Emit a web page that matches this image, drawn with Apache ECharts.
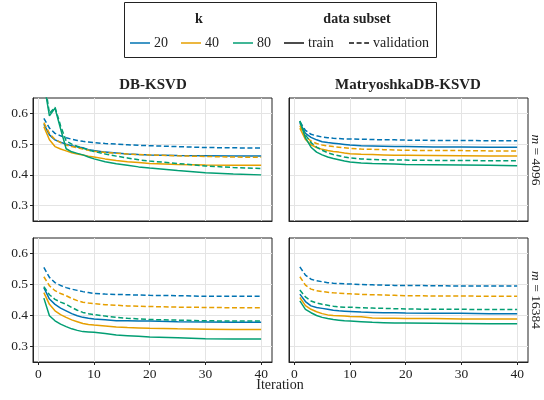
<!DOCTYPE html>
<html>
<head>
<meta charset="utf-8">
<script src="https://cdn.jsdelivr.net/npm/echarts@6/dist/echarts.min.js"></script>
<style>html,body{margin:0;padding:0;background:#fff}#c{width:544px;height:400px}</style>
</head>
<body>
<div id="c"></div>
<script>
// ---------- DATA ----------
const iters = [1,2,3,4,5,6,7,8,9,10,12,14,16,18,20,25,30,35,40];
const xTicks = [0,10,20,30,40];
const yTicks = [0.3,0.4,0.5,0.6];
const methods = ['DB-KSVD','MatryoshkaDB-KSVD'];
const mValues = ['4096','16384'];
const kValues = ['20','40','80'];
const subsets = ['train','validation'];

// DB-KSVD, m = 4096
const db4096_k20_train = [0.565,0.530,0.514,0.506,0.500,0.495,0.491,0.488,0.482,0.479,0.474,0.471,0.468,0.466,0.465,0.463,0.462,0.461,0.461];
const db4096_k20_val   = [0.584,0.552,0.535,0.527,0.521,0.516,0.512,0.509,0.507,0.505,0.502,0.500,0.498,0.496,0.495,0.492,0.489,0.488,0.487];
const db4096_k40_train = [0.557,0.514,0.492,0.484,0.478,0.472,0.468,0.465,0.461,0.458,0.452,0.447,0.443,0.440,0.437,0.434,0.432,0.431,0.431];
const db4096_k40_val   = [0.570,0.535,0.515,0.505,0.497,0.492,0.488,0.484,0.480,0.477,0.473,0.470,0.468,0.466,0.465,0.462,0.460,0.458,0.457];
const db4096_k80_train = [0.700,0.592,0.617,0.550,0.485,0.475,0.470,0.465,0.458,0.452,0.443,0.436,0.431,0.426,0.422,0.414,0.407,0.403,0.400];
const db4096_k80_val   = [0.720,0.600,0.620,0.560,0.510,0.500,0.493,0.487,0.481,0.476,0.468,0.461,0.455,0.449,0.445,0.437,0.429,0.424,0.421];
// MatryoshkaDB-KSVD, m = 4096
const mat4096_k20_train = [0.568,0.535,0.522,0.514,0.508,0.505,0.503,0.501,0.499,0.497,0.495,0.494,0.493,0.492,0.492,0.491,0.491,0.490,0.490];
const mat4096_k20_val   = [0.573,0.545,0.532,0.527,0.523,0.521,0.519,0.518,0.517,0.517,0.516,0.515,0.514,0.514,0.513,0.512,0.512,0.511,0.511];
const mat4096_k40_train = [0.552,0.515,0.498,0.489,0.483,0.479,0.476,0.474,0.471,0.469,0.467,0.466,0.465,0.464,0.464,0.463,0.462,0.461,0.461];
const mat4096_k40_val   = [0.560,0.525,0.510,0.502,0.497,0.494,0.492,0.490,0.488,0.486,0.484,0.483,0.482,0.481,0.480,0.479,0.479,0.478,0.478];
const mat4096_k80_train = [0.575,0.520,0.490,0.474,0.465,0.458,0.453,0.449,0.445,0.442,0.439,0.437,0.436,0.435,0.434,0.433,0.432,0.431,0.430];
const mat4096_k80_val   = [0.575,0.530,0.505,0.490,0.480,0.472,0.466,0.462,0.458,0.455,0.452,0.450,0.449,0.448,0.448,0.447,0.447,0.446,0.446];
// DB-KSVD, m = 16384
const db16384_k20_train = [0.490,0.453,0.436,0.424,0.415,0.406,0.399,0.394,0.391,0.389,0.386,0.383,0.383,0.382,0.382,0.380,0.379,0.378,0.378];
const db16384_k20_val   = [0.555,0.523,0.506,0.497,0.490,0.485,0.481,0.477,0.474,0.471,0.469,0.468,0.467,0.466,0.465,0.464,0.462,0.462,0.462];
const db16384_k40_train = [0.474,0.436,0.415,0.403,0.394,0.386,0.380,0.374,0.371,0.369,0.366,0.363,0.361,0.360,0.359,0.357,0.356,0.355,0.355];
const db16384_k40_val   = [0.525,0.496,0.480,0.471,0.464,0.455,0.448,0.443,0.440,0.438,0.435,0.433,0.431,0.430,0.429,0.427,0.426,0.425,0.425];
const db16384_k80_train = [0.456,0.399,0.383,0.372,0.364,0.357,0.352,0.348,0.347,0.346,0.342,0.337,0.335,0.333,0.331,0.328,0.325,0.324,0.324];
const db16384_k80_val   = [0.493,0.467,0.452,0.443,0.436,0.426,0.417,0.410,0.406,0.403,0.398,0.394,0.391,0.389,0.387,0.385,0.383,0.382,0.382];
// MatryoshkaDB-KSVD, m = 16384
const mat16384_k20_train = [0.469,0.445,0.431,0.426,0.423,0.420,0.417,0.415,0.414,0.413,0.411,0.410,0.409,0.409,0.408,0.407,0.407,0.406,0.406];
const mat16384_k20_val   = [0.557,0.530,0.517,0.512,0.509,0.506,0.504,0.503,0.502,0.502,0.500,0.499,0.498,0.497,0.497,0.496,0.495,0.495,0.495];
const mat16384_k40_train = [0.458,0.432,0.420,0.412,0.406,0.402,0.400,0.399,0.398,0.397,0.396,0.392,0.391,0.391,0.390,0.390,0.389,0.389,0.389];
const mat16384_k40_val   = [0.525,0.498,0.485,0.480,0.477,0.475,0.473,0.472,0.471,0.470,0.468,0.467,0.466,0.465,0.464,0.463,0.463,0.462,0.462];
const mat16384_k80_train = [0.447,0.420,0.409,0.400,0.394,0.390,0.387,0.385,0.383,0.382,0.380,0.378,0.377,0.376,0.376,0.375,0.374,0.373,0.373];
const mat16384_k80_val   = [0.482,0.460,0.447,0.440,0.436,0.433,0.430,0.428,0.427,0.427,0.425,0.424,0.423,0.422,0.421,0.420,0.420,0.419,0.419];

// ---------- STRUCTURE ----------
const panels = [
  {grid:0, series:{ '20':[db4096_k20_train, db4096_k20_val], '40':[db4096_k40_train, db4096_k40_val], '80':[db4096_k80_train, db4096_k80_val] }},
  {grid:1, series:{ '20':[mat4096_k20_train, mat4096_k20_val], '40':[mat4096_k40_train, mat4096_k40_val], '80':[mat4096_k80_train, mat4096_k80_val] }},
  {grid:2, series:{ '20':[db16384_k20_train, db16384_k20_val], '40':[db16384_k40_train, db16384_k40_val], '80':[db16384_k80_train, db16384_k80_val] }},
  {grid:3, series:{ '20':[mat16384_k20_train, mat16384_k20_val], '40':[mat16384_k40_train, mat16384_k40_val], '80':[mat16384_k80_train, mat16384_k80_val] }}
];
const colors = {'20':'#0173B2','40':'#E69F00','80':'#029E73'};
const FONT = '"Liberation Serif", "DejaVu Serif", serif';
const TXT = '#222';

const gridPos = [
  {left:33, top:98, width:239, height:123},
  {left:289, top:98, width:239, height:123},
  {left:33, top:238, width:239, height:124},
  {left:289, top:238, width:239, height:124}
];

const grids = gridPos.map(g => Object.assign({show:true, borderColor:'#222', borderWidth:1, backgroundColor:'transparent', containLabel:false}, g));

const xAxes = gridPos.map((g,i) => ({
  type:'value', gridIndex:i, min:-0.95, max:41.95,
  axisLine:{show:true, onZero:false, lineStyle:{color:'#222', width:1}},
  axisTick:{show:i>=2, length:3, inside:false, customValues:xTicks, lineStyle:{color:'#222'}},
  axisLabel:{show:i>=2, customValues:xTicks, fontFamily:FONT, fontSize:13.5, color:TXT, margin:5,
    formatter: v => (Math.abs(v - Math.round(v/10)*10) < 1e-6 ? String(Math.round(v)) : '')},
  splitLine:{show:true, lineStyle:{color:'#e4e4e4', width:1}}
}));
const yAxes = gridPos.map((g,i) => ({
  type:'value', gridIndex:i, min:0.25, max:0.65,
  axisLine:{show:true, onZero:false, lineStyle:{color:'#222', width:1}},
  axisTick:{show:(i%2===0), length:3, inside:false, customValues:yTicks, lineStyle:{color:'#222'}},
  axisLabel:{show:(i%2===0), customValues:yTicks, fontFamily:FONT, fontSize:13.5, color:TXT, margin:5,
    formatter: v => (Math.abs(v*10 - Math.round(v*10)) < 1e-6 && v>0.26 && v<0.64 ? v.toFixed(1) : '')},
  splitLine:{show:true, lineStyle:{color:'#e4e4e4', width:1}}
}));

const series = [];
panels.forEach(p => {
  kValues.forEach(k => {
    subsets.forEach((s, si) => {
      const vals = p.series[k][si];
      series.push({
        type:'line', xAxisIndex:p.grid, yAxisIndex:p.grid,
        name: k + ' ' + s,
        data: iters.map((x, j) => [x, vals[j]]),
        symbol:'none', smooth:false, clip:true, animation:false,
        lineStyle:{color:colors[k], width:1.5, type: s==='train' ? 'solid' : [5,2.6]},
        z: 2
      });
    });
  });
});

// ---------- DECORATION (titles, legend, labels) ----------
const graphic = [];
function txt(x, y, text, opts) {
  opts = opts || {};
  graphic.push({type:'text', x:x, y:y, rotation:opts.rotation||0, z:10,
    style:Object.assign({text:text, fill:TXT, fontFamily:FONT, fontSize:opts.size||13,
      fontWeight:opts.weight||'normal', align:'center', verticalAlign:'middle'}, opts.extra||{})});
}
// panel titles
txt(153, 85, methods[0], {weight:'bold', size:15});
txt(408, 85, methods[1], {weight:'bold', size:15});
// row labels
txt(536, 160, '{i|m} = ' + mValues[0], {rotation:-Math.PI/2, size:13.5, extra:{rich:{i:{fontStyle:'italic', fontFamily:FONT, fontSize:13.5, fill:TXT}}}});
txt(536, 300, '{i|m} = ' + mValues[1], {rotation:-Math.PI/2, size:13.5, extra:{rich:{i:{fontStyle:'italic', fontFamily:FONT, fontSize:13.5, fill:TXT}}}});
// x axis name
txt(280, 385, 'Iteration', {size:14});
// legend box
graphic.push({type:'rect', z:9, shape:{x:124.5, y:2.5, width:312, height:55}, style:{fill:'#fff', stroke:'#222', lineWidth:1}});
txt(199, 19, 'k', {weight:'bold', size:14});
txt(357, 19, 'data subset', {weight:'bold', size:14});
const legendItems = [
  {x:130, label:kValues[0], color:colors['20'], dash:null},
  {x:181, label:kValues[1], color:colors['40'], dash:null},
  {x:233, label:kValues[2], color:colors['80'], dash:null},
  {x:284, label:subsets[0], color:'#111', dash:null},
  {x:349, label:subsets[1], color:'#111', dash:[5,2.6]}
];
legendItems.forEach(it => {
  graphic.push({type:'line', z:10, shape:{x1:it.x, y1:43, x2:it.x+20, y2:43},
    style:{stroke:it.color, lineWidth:1.5, lineDash:it.dash}});
  graphic.push({type:'text', x:it.x+24, y:43, z:10,
    style:{text:it.label, fill:TXT, fontFamily:FONT, fontSize:14, align:'left', verticalAlign:'middle'}});
});

const chart = echarts.init(document.getElementById('c'), null, {renderer:'canvas'});
chart.setOption({
  animation:false,
  backgroundColor:'#fff',
  grid:grids, xAxis:xAxes, yAxis:yAxes, series:series, graphic:graphic
});
</script>
</body>
</html>
